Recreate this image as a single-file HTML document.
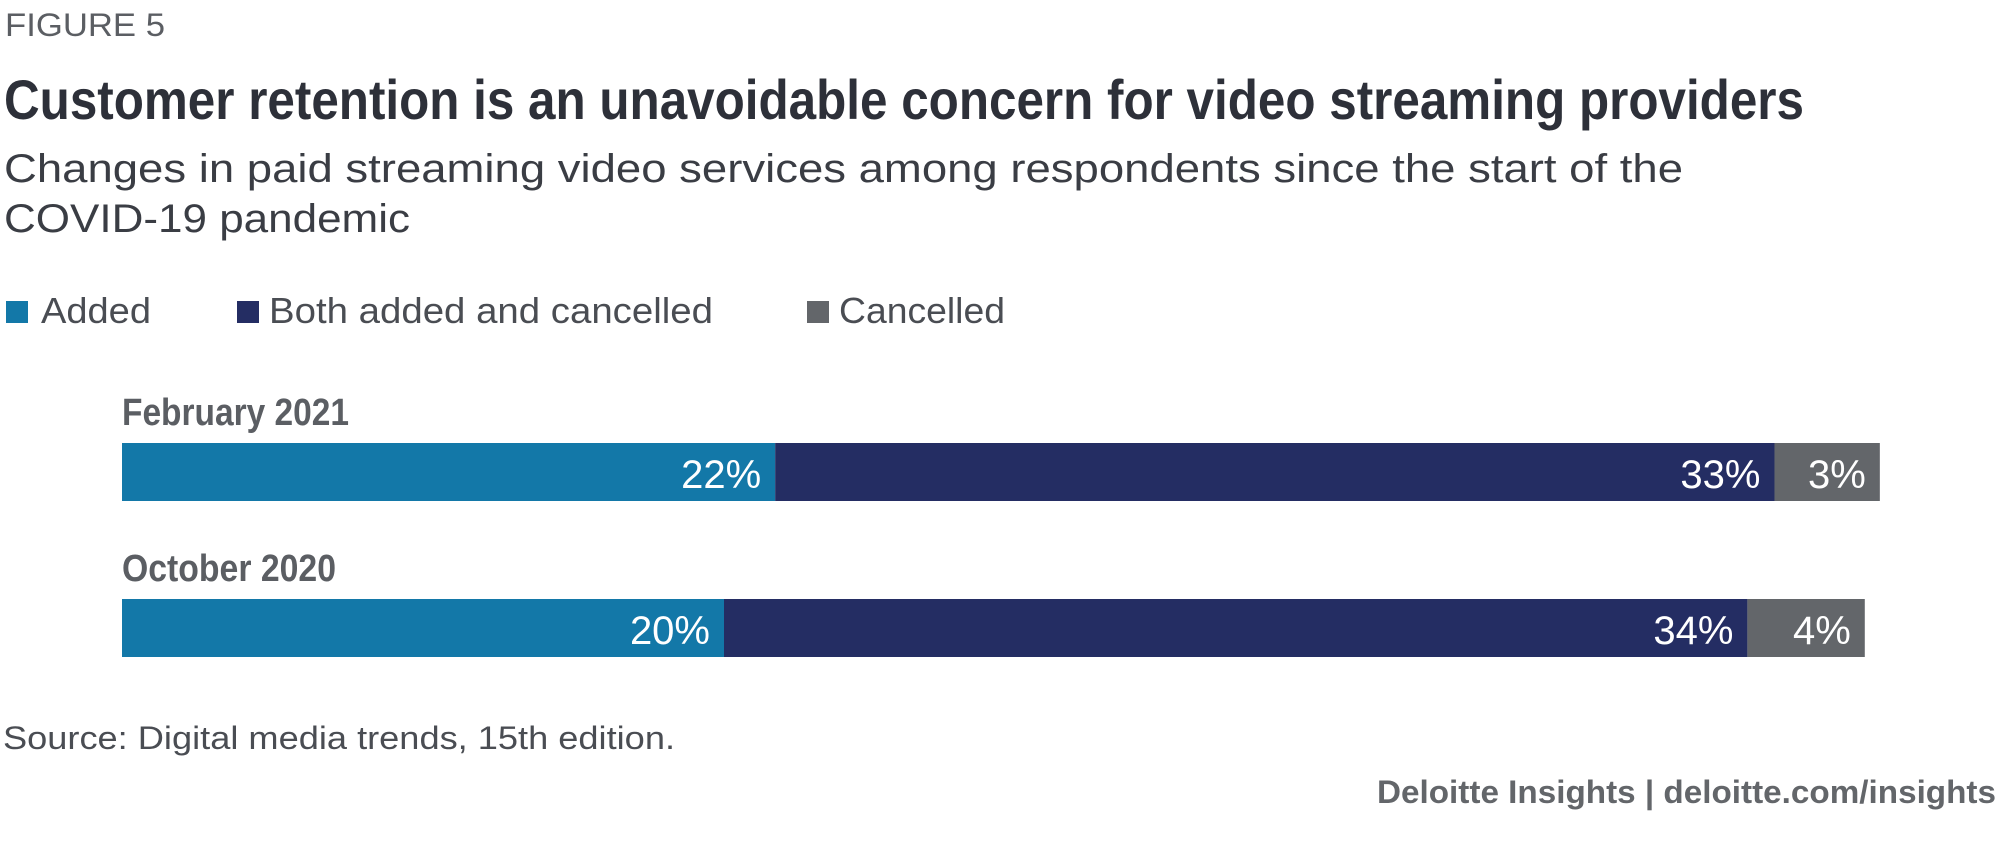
<!DOCTYPE html>
<html><head><meta charset="utf-8"><style>
html,body{margin:0;padding:0;background:#fff;width:2000px;height:852px;overflow:hidden}
svg{display:block}
text{font-family:"Liberation Sans Narrow","Liberation Sans",sans-serif}
</style></head><body>
<svg id="chart" width="2000" height="852" viewBox="0 0 2000 852">
<text x="5" y="36" font-size="32" fill="#5b5e63" textLength="160" lengthAdjust="spacingAndGlyphs">FIGURE 5</text>
<text x="4" y="119" font-size="56" font-weight="bold" fill="#2d3039" textLength="1800" lengthAdjust="spacingAndGlyphs">Customer retention is an unavoidable concern for video streaming providers</text>
<text x="4" y="182" font-size="40" fill="#3a3d44" textLength="1679" lengthAdjust="spacingAndGlyphs">Changes in paid streaming video services among respondents since the start of the</text>
<text x="4" y="232" font-size="40" fill="#3a3d44" textLength="406" lengthAdjust="spacingAndGlyphs">COVID-19 pandemic</text>
<g>
<rect x="6" y="301" width="22" height="22" fill="#1378a8"/>
<text x="41" y="323" font-size="36" fill="#4a4d53" textLength="110" lengthAdjust="spacingAndGlyphs">Added</text>
<rect x="237" y="301" width="22" height="22" fill="#242d63"/>
<text x="269" y="323" font-size="36" fill="#4a4d53" textLength="444" lengthAdjust="spacingAndGlyphs">Both added and cancelled</text>
<rect x="807" y="301" width="22" height="22" fill="#63666a"/>
<text x="839" y="323" font-size="36" fill="#4a4d53" textLength="166" lengthAdjust="spacingAndGlyphs">Cancelled</text>
</g>
<g id="bars"></g>
<text x="3" y="749" font-size="32" fill="#4a4d53" textLength="672" lengthAdjust="spacingAndGlyphs">Source: Digital media trends, 15th edition.</text>
<text x="1996" y="803" font-size="32" font-weight="bold" fill="#63666a" text-anchor="end" textLength="619" lengthAdjust="spacingAndGlyphs">Deloitte Insights | deloitte.com/insights</text>
</svg>
<script>
const categories = ["February 2021", "October 2020"];
const addedValues = [21.7, 20.0];
const bothValues = [33.2, 34.0];
const cancelledValues = [3.5, 3.9];
const addedLabels = ["22%", "20%"];
const bothLabels = ["33%", "34%"];
const cancelledLabels = ["3%", "4%"];

const NS = "http://www.w3.org/2000/svg";
const x0 = 122, pxPer = 30.1;
const xScale = v => x0 + v * pxPer;
const rowTop = [443, 599], barH = 58;
const colors = ["#1378a8", "#242d63", "#63666a"];
const segNames = ["added", "both", "cancelled"];
const g = document.getElementById("bars");
categories.forEach((cat, i) => {
  const lbl = document.createElementNS(NS, "text");
  lbl.setAttribute("x", x0);
  lbl.setAttribute("y", rowTop[i] - 18);
  lbl.setAttribute("font-size", "38");
  lbl.setAttribute("font-weight", "bold");
  lbl.setAttribute("fill", "#5b5e63");
  lbl.setAttribute("textLength", i === 0 ? 227 : 214);
  lbl.setAttribute("lengthAdjust", "spacingAndGlyphs");
  lbl.textContent = cat;
  
  
  g.appendChild(lbl);
  const vals = [addedValues[i], bothValues[i], cancelledValues[i]];
  const labs = [addedLabels[i], bothLabels[i], cancelledLabels[i]];
  let cum = 0;
  vals.forEach((v, j) => {
    const xs = xScale(cum), xe = xScale(cum + v);
    const r = document.createElementNS(NS, "rect");
    r.setAttribute("x", xs);
    r.setAttribute("y", rowTop[i]);
    r.setAttribute("width", xe - xs);
    r.setAttribute("height", barH);
    r.setAttribute("fill", colors[j]);
    
    
    g.appendChild(r);
    const t = document.createElementNS(NS, "text");
    t.setAttribute("x", xe - 14);
    t.setAttribute("y", rowTop[i] + 45);
    t.setAttribute("font-size", "40");
    t.setAttribute("fill", "#ffffff");
    t.setAttribute("text-anchor", "end");
    t.textContent = labs[j];
    
    
    g.appendChild(t);
    cum += v;
  });
});
</script>
</body></html>
